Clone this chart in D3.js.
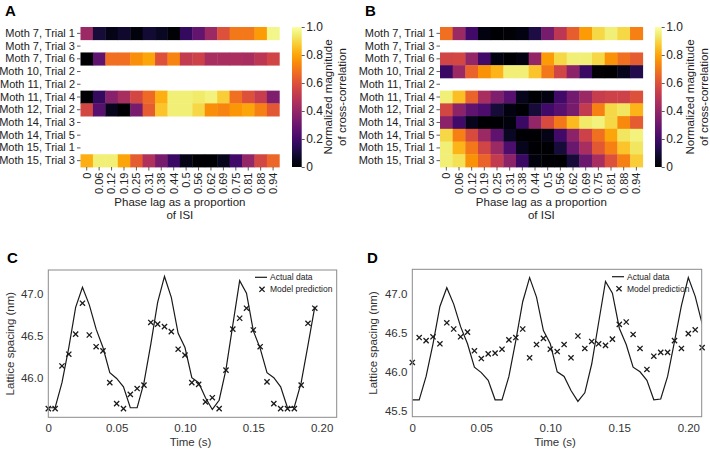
<!DOCTYPE html>
<html><head><meta charset="utf-8">
<script src="https://cdn.jsdelivr.net/npm/d3@7"></script>
<style>body{margin:0;background:#fff}svg{display:block;font-family:"Liberation Sans",Arial,sans-serif}</style>
</head><body><svg id="chart" width="710" height="452"></svg>
<script>
// ---------- DATA ----------
const phaseLags = ["0","0.06","0.12","0.19","0.25","0.31","0.38","0.44","0.5","0.56","0.62","0.69","0.75","0.81","0.88","0.94"];
const trials = ["Moth 7, Trial 1","Moth 7, Trial 3","Moth 7, Trial 6","Moth 10, Trial 2","Moth 11, Trial 2","Moth 11, Trial 4","Moth 12, Trial 2","Moth 14, Trial 3","Moth 14, Trial 5","Moth 15, Trial 1","Moth 15, Trial 3"];
const heatA = [
  [0.42,0.10,0.04,0.08,0.02,0.09,0.06,0.01,0.17,0.28,0.42,0.60,0.70,0.70,0.78,0.97],
  null,
  [0.00,0.27,0.68,0.68,0.75,0.80,0.60,0.73,0.52,0.55,0.45,0.45,0.46,0.45,0.50,0.56],
  null,
  null,
  [0.00,0.17,0.37,0.45,0.57,0.67,0.82,0.95,0.95,0.94,0.96,0.88,0.68,0.60,0.53,0.35],
  [0.57,0.25,0.05,0.00,0.33,0.63,0.86,0.95,0.95,0.90,0.75,0.73,0.77,0.80,0.72,0.62],
  null,
  null,
  null,
  [0.82,0.95,0.95,0.80,0.63,0.47,0.33,0.18,0.04,0.00,0.00,0.05,0.20,0.40,0.57,0.66]
];
const heatB = [
  [0.68,0.42,0.20,0.03,0.00,0.01,0.03,0.12,0.33,0.50,0.64,0.78,0.90,0.95,0.90,0.72],
  null,
  [0.56,0.57,0.40,0.20,0.03,0.00,0.03,0.40,0.78,0.90,0.95,0.95,0.90,0.76,0.68,0.63],
  [0.18,0.42,0.65,0.76,0.83,0.95,0.95,0.86,0.70,0.56,0.38,0.18,0.01,0.00,0.05,0.13],
  null,
  [0.95,0.85,0.65,0.45,0.35,0.25,0.05,0.00,0.03,0.20,0.32,0.42,0.53,0.55,0.55,0.60],
  [0.57,0.38,0.27,0.23,0.10,0.03,0.00,0.10,0.20,0.25,0.33,0.52,0.72,0.90,0.93,0.83],
  [0.38,0.20,0.05,0.00,0.00,0.02,0.18,0.40,0.58,0.70,0.84,0.94,0.96,0.90,0.74,0.63],
  [0.90,0.72,0.58,0.42,0.27,0.06,0.00,0.00,0.04,0.20,0.38,0.55,0.68,0.80,0.93,0.96],
  [0.95,0.83,0.70,0.56,0.42,0.23,0.05,0.00,0.00,0.10,0.30,0.45,0.62,0.72,0.86,0.93],
  [0.95,0.92,0.76,0.65,0.52,0.38,0.18,0.02,0.00,0.00,0.10,0.30,0.45,0.60,0.72,0.88]
];
const colorbarTicks = [0,0.2,0.4,0.6,0.8,1.0];
const colorbarTickLabels = ["0","0.2","0.4","0.6","0.8","1.0"];

const timeS = [0,0.005,0.01,0.015,0.02,0.025,0.03,0.035,0.04,0.045,0.05,0.055,0.06,0.065,0.07,0.075,0.08,0.085,0.09,0.095,0.1,0.105,0.11,0.115,0.12,0.125,0.13,0.135,0.14,0.145,0.15,0.155,0.16,0.165,0.17,0.175,0.18,0.185,0.19,0.195,0.2,0.205,0.21];
const actualData = [45.64,45.64,45.94,46.36,46.84,47.08,46.87,46.58,46.36,46.06,45.99,45.89,45.64,45.64,45.94,46.40,46.90,47.21,46.96,46.53,46.36,46.00,45.94,45.76,45.62,45.73,46.10,46.63,47.16,47.01,46.56,46.35,46.06,46.00,45.89,45.64,45.65,45.94,46.39,46.85,47.21,46.97,46.62];
const predictionC = [45.63,45.63,46.14,46.28,46.52,46.89,46.51,46.37,46.32,45.94,45.69,45.63,45.80,45.87,45.91,46.66,46.64,46.61,46.55,46.34,46.27,45.94,45.92,45.71,45.76,45.63,46.09,46.58,46.71,46.83,46.57,46.37,45.95,45.69,45.63,45.63,45.63,45.91,46.65,46.83];
const predictionD = [46.12,46.44,46.40,46.45,46.36,46.63,46.55,46.45,46.51,46.27,46.17,46.23,46.24,46.29,46.41,46.44,46.55,46.18,46.35,46.43,46.29,46.26,46.35,46.18,46.46,46.30,46.39,46.36,46.34,46.42,46.61,46.64,46.48,46.30,46.03,46.20,46.25,46.25,46.40,46.30,46.49,46.54,46.31];
const timeTicks = [0,0.05,0.10,0.15,0.20];
const timeTickLabels = ["0","0.05","0.10","0.15","0.20"];
const yTicksC = [46.0,46.5,47.0];
const yTicksD = [45.5,46.0,46.5,47.0];
const legendLabels = ["Actual data","Model prediction"];

// ---------- DRAW ----------
const svg = d3.select("#chart");
const color = d3.scaleSequential(d3.interpolateInferno).domain([0,1]);
const FS = 11;

function heatmap(vals, box, cbox, letter, letterX) {
  const g = svg.append("g");
  const x = d3.scaleBand().domain(phaseLags).range([box.x0, box.x1]);
  const y = d3.scaleBand().domain(trials).range([box.y0, box.y1]);
  vals.forEach((row, i) => {
    if (!row) return;
    g.selectAll(null).data(row).join("rect")
      .attr("x", (d, j) => x(phaseLags[j]))
      .attr("y", y(trials[i]))
      .attr("width", x.bandwidth() + 0.4)
      .attr("height", y.bandwidth() + 0.4)
      .attr("fill", d => color(d));
  });
  const ya = g.append("g").attr("transform", `translate(${box.x0},0)`)
    .call(d3.axisLeft(y).tickSize(3.5).tickPadding(2));
  ya.select(".domain").remove();
  ya.selectAll("text").attr("font-size", FS).attr("fill", "#222").attr("font-family", null);
  ya.selectAll("line").attr("stroke", "#333").attr("stroke-width", 0.8);
  const xa = g.append("g").attr("transform", `translate(0,${box.y1})`)
    .call(d3.axisBottom(x).tickSize(3.5).tickPadding(2));
  xa.select(".domain").remove();
  xa.selectAll("line").attr("stroke", "#333").attr("stroke-width", 0.8);
  xa.selectAll("text").attr("font-size", FS).attr("fill", "#222").attr("font-family", null)
    .attr("transform", "rotate(-90)").attr("text-anchor", "end")
    .attr("x", -5.5).attr("y", 0).attr("dy", "0.35em");
  const cx = (box.x0 + box.x1) / 2;
  g.append("text").attr("x", cx).attr("y", 206).attr("text-anchor", "middle").attr("font-size", FS + 0.5).attr("fill", "#222").text("Phase lag as a proportion");
  g.append("text").attr("x", cx).attr("y", 219).attr("text-anchor", "middle").attr("font-size", FS + 0.5).attr("fill", "#222").text("of ISI");

  // colorbar
  const gid = "grad" + letter;
  const grad = svg.append("defs").append("linearGradient").attr("id", gid)
    .attr("x1", 0).attr("y1", 1).attr("x2", 0).attr("y2", 0);
  d3.range(0, 1.0001, 0.05).forEach(t => grad.append("stop").attr("offset", t).attr("stop-color", color(t)));
  const cs = d3.scaleLinear().domain([0, 1]).range([box.y1, box.y0]);
  g.append("rect").attr("x", cbox.x0).attr("y", box.y0).attr("width", cbox.x1 - cbox.x0).attr("height", box.y1 - box.y0).attr("fill", `url(#${gid})`);
  const ca = g.append("g").attr("transform", `translate(${cbox.x1},0)`)
    .call(d3.axisRight(cs).tickValues(colorbarTicks).tickFormat((d, i) => colorbarTickLabels[i]).tickSize(3).tickPadding(1.5));
  ca.select(".domain").remove();
  ca.selectAll("line").attr("stroke", "#333").attr("stroke-width", 0.8);
  ca.selectAll("text").attr("font-size", FS + 1).attr("fill", "#222").attr("font-family", null);
  const cy = (box.y0 + box.y1) / 2;
  g.append("text").attr("transform", `translate(${cbox.lx},${cy}) rotate(-90)`).attr("text-anchor", "middle").attr("font-size", FS + 0.5).attr("fill", "#222").text("Normalized magnitude");
  g.append("text").attr("transform", `translate(${cbox.lx + 13.5},${cy}) rotate(-90)`).attr("text-anchor", "middle").attr("font-size", FS + 0.5).attr("fill", "#222").text("of cross-correlation");
  svg.append("text").attr("x", letterX).attr("y", 15.5).attr("font-size", 15).attr("font-weight", "bold").text(letter);
}

heatmap(heatA, {x0: 80.5, x1: 279.3, y0: 27, y1: 167}, {x0: 292, x1: 301.7, lx: 332}, "A", 5);
heatmap(heatB, {x0: 440, x1: 642.7, y0: 27, y1: 167}, {x0: 655, x1: 661.7, lx: 694}, "B", 365);

function lineplot(box, xdom, ydom, yTicks, pred, nActual, letter, letterX) {
  const g = svg.append("g");
  const x = d3.scaleLinear().domain(xdom).range([box.x0, box.x1]);
  const y = d3.scaleLinear().domain(ydom).range([box.y1, box.y0]);
  const clipId = "clip" + letter;
  svg.append("defs").append("clipPath").attr("id", clipId).append("rect")
    .attr("x", box.x0).attr("y", box.y0).attr("width", box.x1 - box.x0).attr("height", box.y1 - box.y0);
  const xa = g.append("g").attr("transform", `translate(0,${box.y1})`)
    .call(d3.axisBottom(x).tickValues(timeTicks).tickFormat((d, i) => timeTickLabels[i]).tickSize(0).tickPadding(7));
  xa.select(".domain").remove();
  xa.selectAll("text").attr("font-size", FS + 0.5).attr("fill", "#333").attr("font-family", null);
  const ya = g.append("g").attr("transform", `translate(${box.x0},0)`)
    .call(d3.axisLeft(y).tickValues(yTicks).tickFormat(d3.format(".1f")).tickSize(0).tickPadding(5));
  ya.select(".domain").remove();
  ya.selectAll("text").attr("font-size", FS + 0.5).attr("fill", "#333").attr("font-family", null);
  const actual = timeS.slice(0, nActual).map((t, i) => [t, actualData[i]]);
  g.append("path").datum(actual).attr("clip-path", `url(#${clipId})`)
    .attr("fill", "none").attr("stroke", "#1a1a1a").attr("stroke-width", 1.2)
    .attr("d", d3.line().x(d => x(d[0])).y(d => y(d[1])));
  const xm = "M-2.6,-2.6L2.6,2.6M-2.6,2.6L2.6,-2.6";
  g.selectAll(null).data(pred).join("path")
    .attr("transform", (d, i) => `translate(${x(timeS[i])},${y(d)})`)
    .attr("d", xm).attr("stroke", "#1a1a1a").attr("stroke-width", 1.3).attr("fill", "none");
  g.append("rect").attr("x", box.x0).attr("y", box.y0).attr("width", box.x1 - box.x0).attr("height", box.y1 - box.y0)
    .attr("fill", "none").attr("stroke", "#8a8a8a").attr("stroke-width", 1);
  // legend
  const L = box.leg;
  g.append("line").attr("x1", L.x).attr("x2", L.x + 12).attr("y1", L.y).attr("y2", L.y).attr("stroke", "#1a1a1a").attr("stroke-width", 1.2);
  g.append("path").attr("transform", `translate(${L.x + 7},${L.y + 12})`).attr("d", xm).attr("stroke", "#1a1a1a").attr("stroke-width", 1.3);
  legendLabels.forEach((t, i) => g.append("text").attr("x", L.x + 15).attr("y", L.y + 3 + i * 12).attr("font-size", 8.5).attr("fill", "#222").text(t));
  // labels
  const cx = (box.x0 + box.x1) / 2;
  g.append("text").attr("x", cx - 2).attr("y", 446).attr("text-anchor", "middle").attr("font-size", FS + 0.5).attr("fill", "#333").text("Time (s)");
  g.append("text").attr("transform", `translate(${box.ylx},${(box.y0 + box.y1) / 2}) rotate(-90)`).attr("text-anchor", "middle").attr("font-size", FS + 0.5).attr("fill", "#333").text("Lattice spacing (nm)");
  svg.append("text").attr("x", letterX).attr("y", 263).attr("font-size", 15).attr("font-weight", "bold").text(letter);
}

lineplot({x0: 48.3, x1: 336.7, y0: 270, y1: 417.3, leg: {x: 255, y: 277.3}, ylx: 14}, [0, 0.211], [45.526, 47.287], yTicksC, predictionC, 40, "C", 7);
lineplot({x0: 412.3, x1: 701.7, y0: 269.3, y1: 416.7, leg: {x: 612, y: 276.7}, ylx: 377}, [0, 0.2097], [45.423, 47.317], yTicksD, predictionD, 43, "D", 367);
</script></body></html>
